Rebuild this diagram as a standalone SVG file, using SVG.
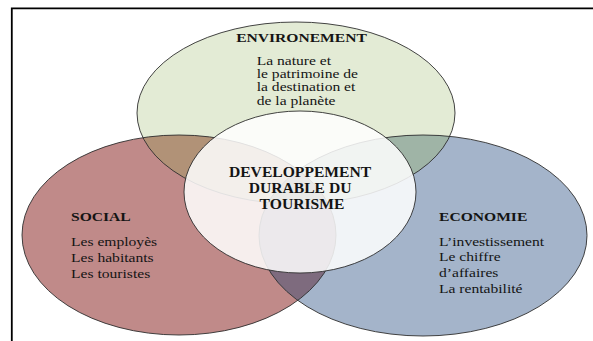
<svg xmlns="http://www.w3.org/2000/svg" width="593" height="341" viewBox="0 0 593 341">
  <style>
    .t { font-family: "Liberation Serif", "Times New Roman", serif; font-size: 13px; fill: #141414; }
    .b { font-weight: bold; }
    .c { text-anchor: middle; }
    .big { font-size: 13.7px; }
    .line { fill: none; stroke: #2e2e2e; stroke-width: 0.9; }
    .frame { fill: none; stroke: #000; stroke-width: 1.8; }
  </style>
  <defs>
    <clipPath id="clipGreen"><ellipse cx="296" cy="113" rx="159" ry="91"/></clipPath>
    <clipPath id="clipRed"><ellipse cx="179" cy="235" rx="157" ry="100"/></clipPath>
  </defs>
  <rect x="0" y="0" width="593" height="341" fill="#fff"/>
  <path class="frame" d="M11.8,341 V8.3 H593"/>

  <g id="node-environnement">
    <ellipse cx="296" cy="113" rx="159" ry="91" fill="#e3ebd5"/>
    <text class="t b c" transform="translate(301.5,0) scale(1.2,1)"><tspan x="0" y="41.7">ENVIRONEMENT</tspan></text>
    <text class="t" transform="translate(256.7,0) scale(1.2,1)">
      <tspan x="0" y="65">La nature et</tspan>
      <tspan x="0" y="78.2">le patrimoine de</tspan>
      <tspan x="0" y="91.4">la destination et</tspan>
      <tspan x="0" y="104.6">de la planète</tspan>
    </text>
  </g>

  <g id="node-social">
    <ellipse cx="179" cy="235" rx="157" ry="100" fill="#c08a89"/>
    <text class="t b" transform="translate(71,0) scale(1.2,1)"><tspan x="0" y="221">SOCIAL</tspan></text>
    <text class="t" transform="translate(71,0) scale(1.2,1)">
      <tspan x="0" y="246.3">Les employès</tspan>
      <tspan x="0" y="262">Les habitants</tspan>
      <tspan x="0" y="277.7">Les touristes</tspan>
    </text>
  </g>

  <g id="node-economie">
    <ellipse cx="423" cy="235.5" rx="164" ry="100.5" fill="#a4b4ca"/>
    <text class="t b" transform="translate(439,0) scale(1.2,1)"><tspan x="0" y="221">ECONOMIE</tspan></text>
    <text class="t" transform="translate(439,0) scale(1.2,1)">
      <tspan x="0" y="246">L’investissement</tspan>
      <tspan x="0" y="261.5">Le chiffre</tspan>
      <tspan x="0" y="277">d’affaires</tspan>
      <tspan x="0" y="293">La rentabilité</tspan>
    </text>
  </g>

  <g id="overlaps">
    <ellipse cx="179" cy="235" rx="157" ry="100" fill="#b19277" clip-path="url(#clipGreen)"/>
    <ellipse cx="423" cy="235.5" rx="164" ry="100.5" fill="#9fb4a6" clip-path="url(#clipGreen)"/>
    <ellipse cx="423" cy="235.5" rx="164" ry="100.5" fill="#7e6b7e" clip-path="url(#clipRed)"/>
    <g clip-path="url(#clipGreen)">
      <ellipse cx="423" cy="235.5" rx="164" ry="100.5" fill="#756a66" clip-path="url(#clipRed)"/>
    </g>
  </g>

  <g id="outlines">
    <ellipse class="line" cx="296" cy="113" rx="159" ry="91"/>
    <ellipse class="line" cx="179" cy="235" rx="157" ry="100"/>
    <ellipse class="line" cx="423" cy="235.5" rx="164" ry="100.5"/>
  </g>

  <g id="node-developpement">
    <ellipse cx="300" cy="192" rx="116" ry="81" fill="#ffffff" fill-opacity="0.85" stroke="#2e2e2e" stroke-width="0.9"/>
    <text class="t b c big" transform="translate(302,0) scale(1.14,1)">
      <tspan x="0" y="177.5">DEVELOPPEMENT</tspan>
      <tspan x="0" y="193.5">DURABLE DU</tspan>
      <tspan x="0" y="209.5">TOURISME</tspan>
    </text>
  </g>
</svg>
